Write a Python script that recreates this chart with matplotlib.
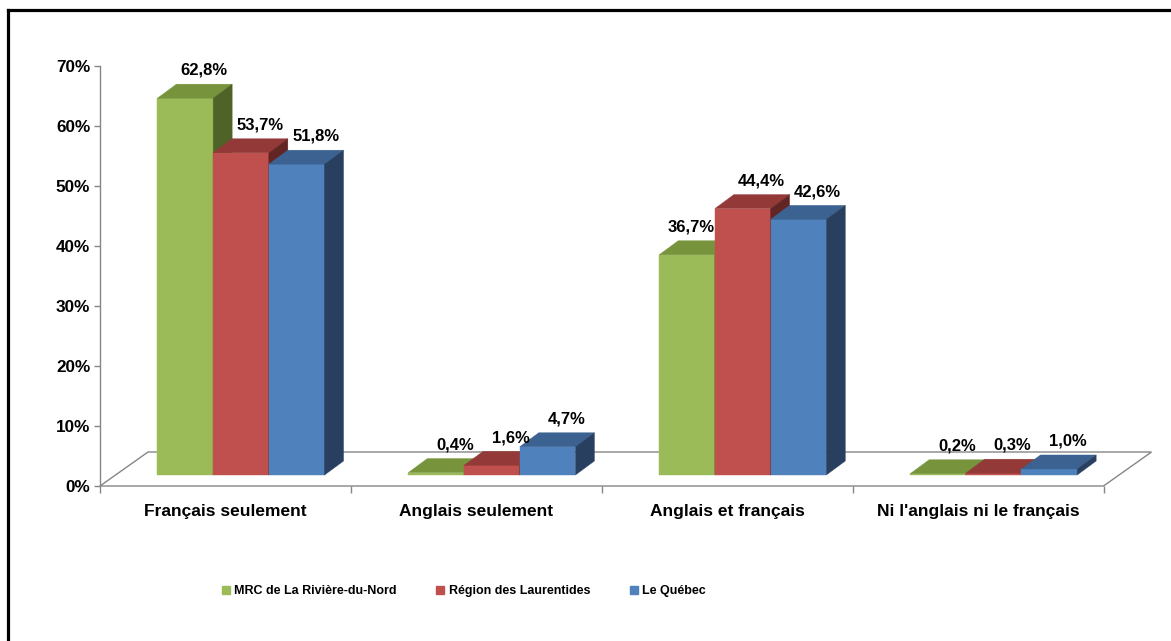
import matplotlib
matplotlib.use("Agg")
import matplotlib.pyplot as plt
from matplotlib import font_manager
from matplotlib.patches import Polygon
from matplotlib.lines import Line2D

# ---------------- data ----------------
categories = ["Français seulement", "Anglais seulement", "Anglais et français",
              "Ni l'anglais ni le français"]
series_names = ["MRC de La Rivière-du-Nord", "Région des Laurentides", "Le Québec"]
mrc_values = [62.8, 0.4, 36.7, 0.2]
region_values = [53.7, 1.6, 44.4, 0.3]
quebec_values = [51.8, 4.7, 42.6, 1.0]
y_ticks = [0, 10, 20, 30, 40, 50, 60, 70]
y_tick_labels = ["0%", "10%", "20%", "30%", "40%", "50%", "60%", "70%"]

# ---------------- styles ----------------
front_colors = ["#9BBB59", "#C0504D", "#4F81BD"]
top_colors = ["#77933C", "#933A38", "#3B6291"]
side_colors = ["#4F6228", "#632523", "#283F5F"]
axis_color = "#868686"

def has_font(name):
    try:
        font_manager.findfont(font_manager.FontProperties(family=name),
                              fallback_to_default=False)
        return True
    except Exception:
        return False

base_font = "Liberation Sans" if has_font("Liberation Sans") else "DejaVu Sans"

# condensed font for the legend if one is installed
legend_font = None
for fe in font_manager.fontManager.ttflist:
    if "narrow" in fe.name.lower() and "liberation" in fe.name.lower():
        legend_font = fe.name
        break
if legend_font is not None:
    legend_size = 10.3
    legend_colspace = 3.3
else:
    legend_font = base_font
    legend_size = 9.0
    legend_colspace = 3.2

plt.rcParams["font.family"] = [base_font, "DejaVu Sans"]

W, H, DPI = 1171, 641, 100
fig = plt.figure(figsize=(W / DPI, H / DPI), dpi=DPI)
fig.patch.set_facecolor("white")

ax_left, ax_right, ax_top, ax_bottom = 100, 1103.5, 66, 486
ax = fig.add_axes([ax_left / W, 1 - ax_bottom / H,
                   (ax_right - ax_left) / W, (ax_bottom - ax_top) / H])
ax.set_xlim(-0.5, len(categories) - 0.5)
ax.set_ylim(0, 70)
ax.patch.set_visible(False)

px_per_cat = (ax_right - ax_left) / len(categories)
px_per_pct = (ax_bottom - ax_top) / 70.0

# 3D projection offsets (in data units)
floor_dx = 48 / px_per_cat
floor_dy = 34 / px_per_pct
bar_off_frac = 0.324
bar_ox = floor_dx * bar_off_frac
bar_oy = floor_dy * bar_off_frac
bar_dx = 19 / px_per_cat
bar_dy = 14 / px_per_pct
bar_w = 0.222

# floor
x0, x1 = -0.5, len(categories) - 0.5
floor = Polygon([(x0, 0), (x1, 0), (x1 + floor_dx, floor_dy), (x0 + floor_dx, floor_dy)],
                closed=True, facecolor="white", edgecolor=axis_color, linewidth=1.0,
                zorder=1, clip_on=False)
ax.add_patch(floor)

series = [mrc_values, region_values, quebec_values]
z = 2
for i in range(len(categories)):
    for j in range(len(series)):
        v = series[j][i]
        xc = i + bar_ox + (j - 1) * bar_w
        ax.bar([xc], [v], width=bar_w, bottom=bar_oy, color=front_colors[j],
               edgecolor=front_colors[j], linewidth=0.3, zorder=z)
        xl = xc - bar_w / 2
        xr = xc + bar_w / 2
        ytop = bar_oy + v
        top = Polygon([(xl, ytop), (xr, ytop), (xr + bar_dx, ytop + bar_dy),
                       (xl + bar_dx, ytop + bar_dy)], closed=True,
                      facecolor=top_colors[j], edgecolor=top_colors[j], linewidth=0.3,
                      zorder=z + 0.1, clip_on=False)
        side = Polygon([(xr, bar_oy), (xr + bar_dx, bar_oy + bar_dy),
                        (xr + bar_dx, ytop + bar_dy), (xr, ytop)], closed=True,
                       facecolor=side_colors[j], edgecolor=side_colors[j], linewidth=0.3,
                       zorder=z + 0.1, clip_on=False)
        ax.add_patch(top)
        ax.add_patch(side)
        z += 1
        # label
        label = f"{v:.1f}%".replace(".", ",")
        ly = ytop + bar_dy + 2.3
        lx = xc + bar_dx
        ha = "center"
        if j < len(series) - 1:
            v_next = series[j + 1][i]
            if ly - 1.2 < bar_oy + v_next:
                lx = xr
                ha = "right"
        ax.text(lx, ly, label, ha=ha, va="center", fontsize=12, fontweight="bold",
                color="black", zorder=100, clip_on=False)

# axes styling
for s in ["top", "right", "bottom"]:
    ax.spines[s].set_visible(False)
ax.spines["left"].set_color(axis_color)
ax.spines["left"].set_linewidth(1.0)
ax.set_yticks(y_ticks)
ax.set_yticklabels(y_tick_labels, fontsize=12.3, fontweight="bold")
ax.tick_params(axis="y", direction="out", length=4, width=1, color=axis_color, pad=3)

ax.set_xticks(range(len(categories)))
ax.set_xticklabels(categories, fontsize=12.5, fontweight="bold")
ax.set_xticks([k - 0.5 for k in range(len(categories) + 1)], minor=True)
ax.tick_params(axis="x", which="major", length=0, pad=13)
ax.tick_params(axis="x", which="minor", direction="out", length=5, width=1, color=axis_color)

# legend
handles = [Line2D([], [], linestyle="none", marker="s", markersize=5.5,
                  markerfacecolor=c, markeredgecolor=c) for c in front_colors]
fig.legend(handles, series_names, loc="center", ncol=3, frameon=False,
           bbox_to_anchor=(464 / W, 1 - 591 / H),
           prop={"family": [legend_font, "DejaVu Sans"], "weight": "bold", "size": legend_size},
           handlelength=0.6, handletextpad=0.35, columnspacing=legend_colspace)

# outer frame (left and top edges visible)
fx = 7.5 / W
fy = 1 - 9.5 / H
fig.add_artist(Line2D([fx, fx], [-0.05, fy], transform=fig.transFigure,
                      color="black", linewidth=2.3, solid_capstyle="projecting"))
fig.add_artist(Line2D([fx, 1.05], [fy, fy], transform=fig.transFigure,
                      color="black", linewidth=2.3, solid_capstyle="projecting"))

fig.savefig("out.png", dpi=DPI, facecolor="white")
